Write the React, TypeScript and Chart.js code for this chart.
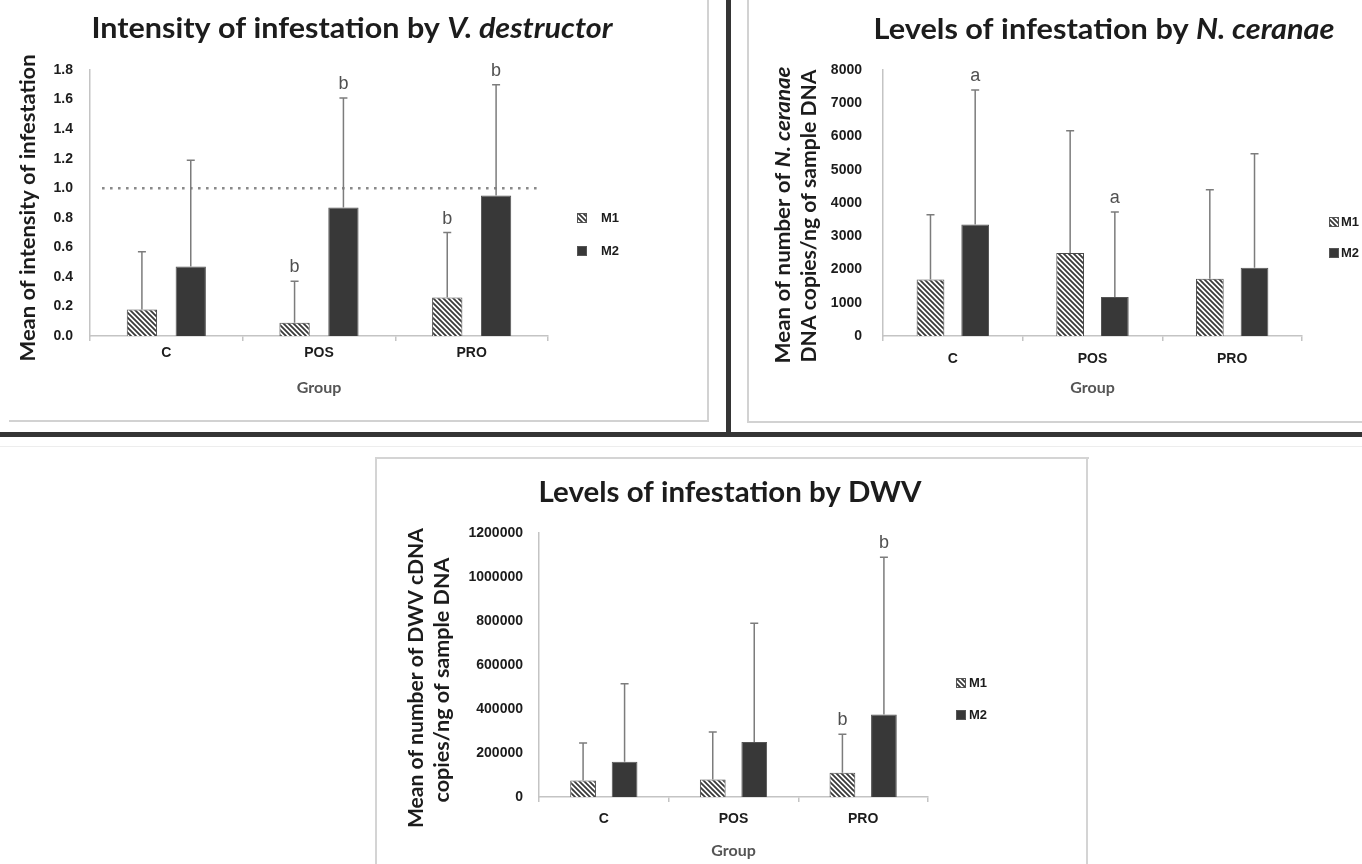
import React, { useEffect, useRef } from 'react';
import { Chart, registerables } from 'chart.js';

Chart.register(...registerables);

// ---------------- data ----------------
const categories = ['C', 'POS', 'PRO'];
const seriesNames = ['M1', 'M2'];

const varroaM1 = [0.18, 0.09, 0.26];
const varroaM2 = [0.47, 0.87, 0.95];
const varroaM1Err = [0.57, 0.37, 0.7];
const varroaM2Err = [1.19, 1.61, 1.7];
const varroaM1Letters = ['', 'b', 'b'];
const varroaM2Letters = ['', 'b', 'b'];
const varroaThreshold = 1.0;
const varroaAxis = [0, 1.8, 0.2];

const nosemaM1 = [1700, 2500, 1720];
const nosemaM2 = [3350, 1170, 2050];
const nosemaM1Err = [3650, 6170, 4400];
const nosemaM2Err = [7400, 3730, 5480];
const nosemaM1Letters = ['', '', ''];
const nosemaM2Letters = ['a', 'a', ''];
const nosemaAxis = [0, 8000, 1000];

const dwvM1 = [75000, 80000, 110000];
const dwvM2 = [160000, 250000, 375000];
const dwvM1Err = [245000, 295000, 285000];
const dwvM2Err = [515000, 790000, 1090000];
const dwvM1Letters = ['', '', 'b'];
const dwvM2Letters = ['', '', 'b'];
const dwvAxis = [0, 1200000, 200000];

const xAxisTitle = 'Group';

// ---------------- styles ----------------
const HUMANIST = 'Lato, "Open Sans", "DejaVu Sans", sans-serif';
const ARIAL = '"Liberation Sans", Arial, "DejaVu Sans", sans-serif';
const AXIS_GREY = '#c4c4c4';
const TEXT_DARK = '#1c1c1c';

type Seg = { text: string; italic?: boolean };
type TextItem = { segs: Seg[]; x: number; y: number; width: number; size: number; rotate?: boolean };

interface PanelSpec {
  w: number;
  h: number;
  m1: number[];
  m2: number[];
  m1Err: number[];
  m2Err: number[];
  m1Letters: string[];
  m2Letters: string[];
  axis: number[];
  decimals: number;
  tickSize: number;
  area: { left: number; right: number; top: number; bottom: number };
  yTickPad: number;
  xTickPad: number;
  xTitlePad: number;
  texts: TextItem[];
  legend: { dx: number; dy: number; gap: number; textDx: number };
  threshold?: number;
}

function makeHatch(): CanvasPattern | string {
  const s = 5;
  const c = document.createElement('canvas');
  c.width = s;
  c.height = s;
  const g = c.getContext('2d');
  if (!g) return '#999';
  g.fillStyle = '#ffffff';
  g.fillRect(0, 0, s, s);
  g.strokeStyle = '#3a3a3a';
  g.lineWidth = 1.8;
  g.beginPath();
  for (let k = -2; k <= 2; k++) {
    g.moveTo(-s, -s + k * s);
    g.lineTo(2 * s, 2 * s + k * s);
  }
  g.stroke();
  const p = g.createPattern(c, 'repeat');
  return p || '#999';
}

function drawRich(ctx: CanvasRenderingContext2D, item: TextItem) {
  ctx.save();
  ctx.translate(item.x, item.y);
  if (item.rotate) ctx.rotate(-Math.PI / 2);
  const fontFor = (s: Seg) => `${s.italic ? 'italic ' : ''}bold ${item.size}px ${HUMANIST}`;
  const widths = item.segs.map((s) => {
    ctx.font = fontFor(s);
    return ctx.measureText(s.text).width;
  });
  const total = widths.reduce((a, b) => a + b, 0);
  const sx = item.width / total;
  ctx.scale(sx, 1);
  ctx.fillStyle = TEXT_DARK;
  ctx.textAlign = 'left';
  ctx.textBaseline = 'alphabetic';
  let cx = -total / 2;
  item.segs.forEach((s, i) => {
    ctx.font = fontFor(s);
    ctx.fillText(s.text, cx, 0);
    cx += widths[i];
  });
  ctx.restore();
}

function buildConfig(spec: PanelSpec): any {
  const hatch = makeHatch();
  const { area, w, h } = spec;

  const errPlugin = {
    id: 'errBars',
    afterDatasetsDraw(chart: any) {
      const ctx: CanvasRenderingContext2D = chart.ctx;
      const y = chart.scales.y;
      const errs = [spec.m1Err, spec.m2Err];
      const letters = [spec.m1Letters, spec.m2Letters];
      chart.data.datasets.forEach((_ds: any, i: number) => {
        const meta = chart.getDatasetMeta(i);
        meta.data.forEach((el: any, j: number) => {
          const x = el.x;
          const top = y.getPixelForValue(errs[i][j]);
          ctx.save();
          ctx.strokeStyle = '#7c7c7c';
          ctx.lineWidth = 1.5;
          ctx.beginPath();
          ctx.moveTo(x, el.y);
          ctx.lineTo(x, top);
          ctx.moveTo(x - 4, top);
          ctx.lineTo(x + 4, top);
          ctx.stroke();
          const L = letters[i][j];
          if (L) {
            ctx.fillStyle = '#505050';
            ctx.font = `18px ${ARIAL}`;
            ctx.textAlign = 'center';
            ctx.textBaseline = 'alphabetic';
            ctx.fillText(L, x, top - 9);
          }
          ctx.restore();
        });
      });
    },
  };

  const refPlugin = {
    id: 'refLine',
    beforeDatasetsDraw(chart: any) {
      if (spec.threshold === undefined) return;
      const ctx: CanvasRenderingContext2D = chart.ctx;
      const y = chart.scales.y.getPixelForValue(spec.threshold);
      const ca = chart.chartArea;
      ctx.save();
      ctx.strokeStyle = '#8a8a8a';
      ctx.lineWidth = 2.6;
      ctx.setLineDash([2.6, 5.4]);
      ctx.beginPath();
      ctx.moveTo(ca.left + 12, y);
      ctx.lineTo(ca.right - 6, y);
      ctx.stroke();
      ctx.restore();
    },
  };

  const textPlugin = {
    id: 'richText',
    afterDraw(chart: any) {
      spec.texts.forEach((t) => drawRich(chart.ctx, t));
    },
  };

  const legendPlugin = {
    id: 'sideLegend',
    afterDraw(chart: any) {
      const ctx: CanvasRenderingContext2D = chart.ctx;
      const ca = chart.chartArea;
      chart.data.datasets.forEach((ds: any, i: number) => {
        const x = ca.right + spec.legend.dx;
        const cy = ca.top + spec.legend.dy + i * spec.legend.gap;
        ctx.save();
        ctx.fillStyle = ds.backgroundColor;
        ctx.fillRect(x, cy - 5, 10, 10);
        ctx.strokeStyle = '#555';
        ctx.lineWidth = 1;
        ctx.strokeRect(x + 0.5, cy - 4.5, 9, 9);
        ctx.fillStyle = TEXT_DARK;
        ctx.font = `bold 13px ${ARIAL}`;
        ctx.textAlign = 'left';
        ctx.textBaseline = 'middle';
        ctx.fillText(ds.label, x + spec.legend.textDx, cy);
        ctx.restore();
      });
    },
  };

  return {
    type: 'bar',
    data: {
      labels: categories,
      datasets: [
        {
          label: seriesNames[0],
          data: spec.m1,
          backgroundColor: hatch,
          borderColor: '#4a4a4a',
          borderWidth: 1,
          categoryPercentage: 0.64,
          barPercentage: 0.62,
        },
        {
          label: seriesNames[1],
          data: spec.m2,
          backgroundColor: '#383838',
          borderColor: '#555555',
          borderWidth: 1,
          categoryPercentage: 0.64,
          barPercentage: 0.62,
        },
      ],
    },
    options: {
      responsive: false,
      maintainAspectRatio: false,
      animation: false,
      events: [],
      layout: { padding: { top: area.top, right: w - area.right, left: 0, bottom: 0 } },
      plugins: {
        legend: { display: false },
        tooltip: { enabled: false },
        title: { display: false },
      },
      scales: {
        x: {
          grid: {
            display: true,
            drawOnChartArea: false,
            drawTicks: true,
            tickLength: 5,
            color: AXIS_GREY,
            lineWidth: 1.5,
          },
          border: { display: true, color: AXIS_GREY, width: 1.5 },
          ticks: {
            padding: spec.xTickPad,
            color: TEXT_DARK,
            font: { family: ARIAL, size: 14, weight: 'bold' },
          },
          title: {
            display: true,
            text: xAxisTitle,
            color: '#555555',
            font: { family: HUMANIST, size: 16, weight: 'bold' },
            padding: { top: 0, bottom: spec.xTitlePad },
          },
          afterFit: (s: any) => {
            s.height = h - area.bottom;
          },
        },
        y: {
          min: spec.axis[0],
          max: spec.axis[1],
          ticks: {
            stepSize: spec.axis[2],
            padding: spec.yTickPad,
            color: TEXT_DARK,
            font: { family: ARIAL, size: spec.tickSize, weight: 'bold' },
            callback: (v: any) => (spec.decimals ? Number(v).toFixed(spec.decimals) : String(Math.round(Number(v)))),
          },
          grid: { display: false, drawTicks: false },
          border: { display: true, color: AXIS_GREY, width: 1.5 },
          afterFit: (s: any) => {
            s.width = area.left;
          },
        },
      },
    },
    plugins: [refPlugin, errPlugin, textPlugin, legendPlugin],
  };
}

function Panel({ left, top, spec }: { left: number; top: number; spec: PanelSpec }) {
  const ref = useRef<HTMLCanvasElement>(null);
  useEffect(() => {
    if (!ref.current) return;
    const chart = new Chart(ref.current, buildConfig(spec));
    return () => chart.destroy();
  }, []);
  return (
    <canvas
      ref={ref}
      width={spec.w}
      height={spec.h}
      style={{ position: 'absolute', left, top, width: spec.w, height: spec.h }}
    />
  );
}

const panel1: PanelSpec = {
  w: 706,
  h: 419,
  m1: varroaM1,
  m2: varroaM2,
  m1Err: varroaM1Err,
  m2Err: varroaM2Err,
  m1Letters: varroaM1Letters,
  m2Letters: varroaM2Letters,
  axis: varroaAxis,
  decimals: 1,
  tickSize: 14,
  area: { left: 90, right: 548, top: 70, bottom: 336 },
  yTickPad: 17,
  xTickPad: 4,
  xTitlePad: 22,
  threshold: varroaThreshold,
  legend: { dx: 29, dy: 148, gap: 33, textDx: 24 },
  texts: [
    {
      segs: [{ text: 'Intensity of infestation by ' }, { text: 'V. destructor', italic: true }],
      x: 352,
      y: 38,
      width: 521,
      size: 28,
    },
    { segs: [{ text: 'Mean of intensity of infestation' }], x: 35, y: 208, width: 307, size: 21, rotate: true },
  ],
};

const panel2: PanelSpec = {
  w: 612,
  h: 420,
  m1: nosemaM1,
  m2: nosemaM2,
  m1Err: nosemaM1Err,
  m2Err: nosemaM2Err,
  m1Letters: nosemaM1Letters,
  m2Letters: nosemaM2Letters,
  axis: nosemaAxis,
  decimals: 0,
  tickSize: 14,
  area: { left: 133, right: 552, top: 70, bottom: 336 },
  yTickPad: 21,
  xTickPad: 10,
  xTitlePad: 23,
  legend: { dx: 27, dy: 152, gap: 31, textDx: 12 },
  texts: [
    {
      segs: [{ text: 'Levels of infestation by ' }, { text: 'N. ceranae', italic: true }],
      x: 354,
      y: 39,
      width: 461,
      size: 28,
    },
    {
      segs: [{ text: 'Mean of number of ' }, { text: 'N. ceranae', italic: true }],
      x: 40,
      y: 215,
      width: 297,
      size: 20,
      rotate: true,
    },
    { segs: [{ text: 'DNA copies/ng of sample DNA' }], x: 66, y: 216, width: 293, size: 20, rotate: true },
  ],
};

const panel3: PanelSpec = {
  w: 708,
  h: 404,
  m1: dwvM1,
  m2: dwvM2,
  m1Err: dwvM1Err,
  m2Err: dwvM2Err,
  m1Letters: dwvM1Letters,
  m2Letters: dwvM2Letters,
  axis: dwvAxis,
  decimals: 0,
  tickSize: 14,
  area: { left: 161, right: 550, top: 73, bottom: 337 },
  yTickPad: 16,
  xTickPad: 9,
  xTitlePad: 4,
  legend: { dx: 28, dy: 150, gap: 32, textDx: 13 },
  texts: [
    { segs: [{ text: 'Levels of infestation by DWV' }], x: 352, y: 42, width: 383, size: 28 },
    { segs: [{ text: 'Mean of number of DWV cDNA' }], x: 45, y: 218, width: 300, size: 20, rotate: true },
    { segs: [{ text: 'copies/ng of sample DNA' }], x: 71, y: 220, width: 245, size: 20, rotate: true },
  ],
};

function Line({ l, t, w, h, c }: { l: number; t: number; w: number; h: number; c: string }) {
  return <div style={{ position: 'absolute', left: l, top: t, width: w, height: h, background: c }} />;
}

export default function App() {
  return (
    <div
      style={{
        position: 'fixed',
        left: 0,
        top: 0,
        width: 1362,
        height: 864,
        background: '#ffffff',
        overflow: 'hidden',
      }}
    >
      <Panel left={0} top={0} spec={panel1} />
      <Panel left={750} top={0} spec={panel2} />
      <Panel left={378} top={460} spec={panel3} />
      {/* panel frames */}
      <Line l={707} t={0} w={2} h={421} c="#d2d2d2" />
      <Line l={9} t={420} w={700} h={2} c="#d2d2d2" />
      <Line l={747} t={0} w={2} h={422} c="#d2d2d2" />
      <Line l={747} t={421} w={615} h={2} c="#d2d2d2" />
      <Line l={375} t={457} w={2} h={407} c="#d4d4d4" />
      <Line l={375} t={457} w={714} h={2} c="#d4d4d4" />
      <Line l={1086} t={457} w={2} h={407} c="#d4d4d4" />
      {/* dark separators */}
      <Line l={726} t={0} w={5} h={437} c="#353535" />
      <Line l={0} t={432} w={1362} h={5} c="#353535" />
      <Line l={0} t={446} w={1362} h={1} c="#ededed" />
    </div>
  );
}
